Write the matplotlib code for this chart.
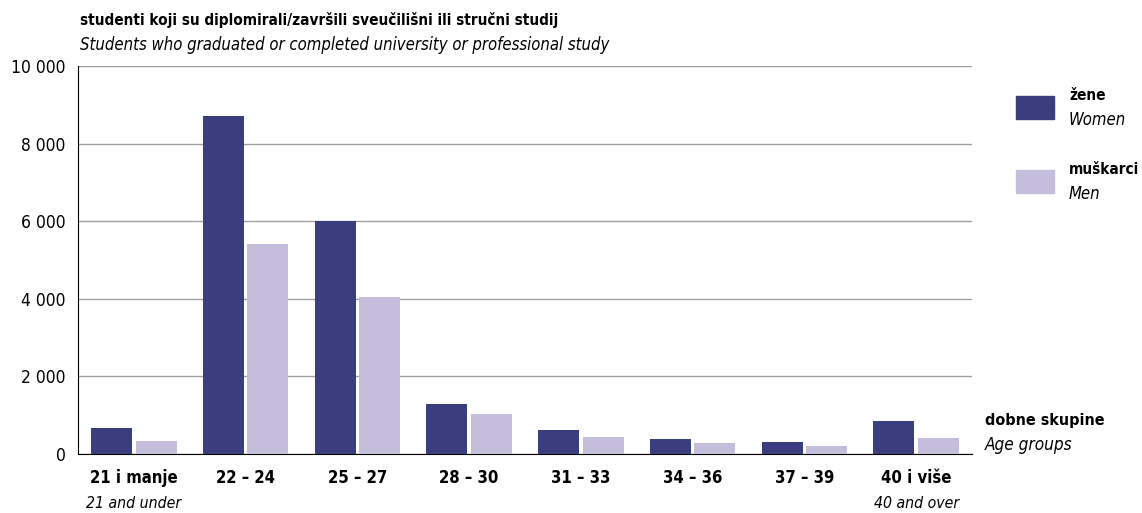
import matplotlib
matplotlib.use("Agg")
import matplotlib.pyplot as plt
from matplotlib.patches import Rectangle
import numpy as np

categories = ["21 i manje", "22 – 24", "25 – 27", "28 – 30", "31 – 33", "34 – 36", "37 – 39", "40 i više"]
categories_en = ["21 and under", "", "", "", "", "", "", "40 and over"]
women = [670, 8700, 6000, 1280, 610, 380, 300, 860]
men = [335, 5400, 4050, 1020, 430, 275, 205, 420]
yticks = [0, 2000, 4000, 6000, 8000, 10000]
ytick_labels = ["0", "2 000", "4 000", "6 000", "8 000", "10 000"]

C_W = "#3a3d7e"
C_M = "#c4bddb"

plt.rcParams['font.family'] = ['DejaVu Sans']
plt.rcParams['font.stretch'] = 'condensed'

fig = plt.figure(figsize=(11.42, 5.13), dpi=100)
ax = fig.add_axes([78/1142, 59/513, 894/1142, 388/513])

x = np.arange(len(categories))
bw = 0.367
ax.bar(x - 0.2, women, bw, color=C_W, zorder=3)
ax.bar(x + 0.2, men, bw, color=C_M, zorder=3)

ax.set_xlim(-0.5, len(categories) - 0.5)
ax.set_ylim(0, 10000)
ax.set_yticks(yticks)
ax.set_yticklabels(ytick_labels, fontsize=12.5)
ax.yaxis.grid(True, color="#a0a0a0", linewidth=1.0, zorder=0)
ax.tick_params(axis='y', length=0, pad=9)
ax.tick_params(axis='x', length=0)
ax.set_xticks([])
for s in ["top", "right"]:
    ax.spines[s].set_visible(False)
ax.spines["left"].set_color("black")
ax.spines["bottom"].set_color("black")

for i, (c, ce) in enumerate(zip(categories, categories_en)):
    ax.annotate(c, xy=(i, 0), xycoords=('data', 'axes fraction'), xytext=(0, -17.3),
                textcoords='offset points', ha='center', va='center', fontsize=12, fontweight='bold')
    if ce:
        ax.annotate(ce, xy=(i, 0), xycoords=('data', 'axes fraction'), xytext=(0, -35.3),
                    textcoords='offset points', ha='center', va='center', fontsize=11.3, style='italic')

# titles
fig.text(80/1142, 1 - 20/513, "studenti koji su diplomirali/završili sveučilišni ili stručni studij",
         fontsize=11, fontweight='bold', ha='left', va='center')
fig.text(80/1142, 1 - 45/513, "Students who graduated or completed university or professional study",
         fontsize=12, style='italic', ha='left', va='center')

# axis label
fig.text(985/1142, 1 - 421/513, "dobne skupine", fontsize=11.5, fontweight='bold', ha='left', va='center')
fig.text(985/1142, 1 - 445/513, "Age groups", fontsize=12.3, style='italic', ha='left', va='center')

# legend
for (y0, col, t1, t2) in [(96, C_W, "žene", "Women"), (170, C_M, "muškarci", "Men")]:
    fig.patches.append(Rectangle((1016/1142, 1 - (y0 + 23)/513), 38/1142, 23/513,
                                 transform=fig.transFigure, color=col))
    fig.text(1069/1142, 1 - (y0 + 0)/513, t1, fontsize=11, fontweight='bold', ha='left', va='center')
    fig.text(1069/1142, 1 - (y0 + 24)/513, t2, fontsize=12, style='italic', ha='left', va='center')

fig.savefig("out.png", dpi=100)
